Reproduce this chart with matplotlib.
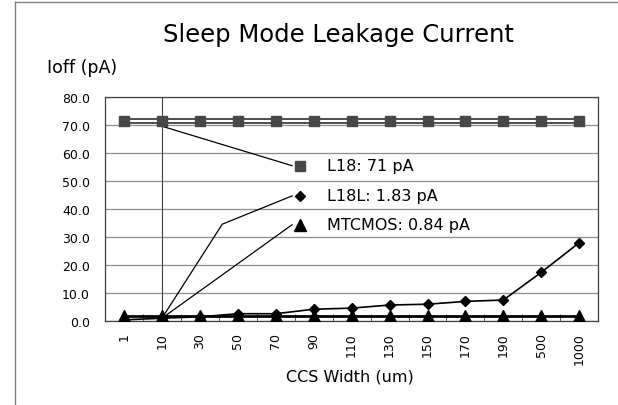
import numpy as np
import matplotlib.pyplot as plt
from matplotlib.lines import Line2D

# data
widths = ['1', '10', '30', '50', '70', '90', '110', '130', '150', '170', '190', '500', '1000']
l18 = [71.2] * 13
l18l = [0.3, 0.9, 1.4, 2.5, 2.5, 4.1, 4.5, 5.6, 5.9, 6.9, 7.4, 17.3, 27.9]
mtcmos = [1.8] * 13
legend_labels = ['L18: 71 pA', 'L18L: 1.83 pA', 'MTCMOS: 0.84 pA']

plt.rcParams['font.family'] = 'DejaVu Sans'
fig = plt.figure(figsize=(6.18, 4.06), dpi=100)
ax = fig.add_axes([0.170, 0.2076, 0.798, 0.5514])
x = np.arange(len(widths))

# L18: hollow double line with gray squares
ax.plot(x, l18, color='#404040', lw=4.2, zorder=3)
ax.plot(x, l18, color='white', lw=1.6, zorder=3)
ax.plot(x, l18, ls='none', marker='s', ms=6.5, color='#484848', zorder=4)
# MTCMOS
ax.plot(x, mtcmos, color='black', lw=2.0, marker='^', ms=8, zorder=3)
# L18L
ax.plot(x, l18l, color='black', lw=1.2, marker='D', ms=5.5, zorder=4)

ax.set_xlim(-0.5, len(widths) - 0.5)
ax.set_ylim(0, 80)
ax.set_yticks(np.arange(0, 81, 10))
ax.set_yticklabels(['%.1f' % v for v in np.arange(0, 81, 10)], fontsize=9)
ax.tick_params(axis='y', length=0, pad=11)
ax.grid(axis='y', color='#8c8c8c', lw=0.9)
ax.set_axisbelow(True)

ax.set_xticks(x)
ax.set_xticklabels(widths, rotation=90, fontsize=9)
ax.tick_params(axis='x', length=0, pad=8)
ax.set_xticks(np.arange(-0.5, len(widths), 1), minor=True)
ax.tick_params(axis='x', which='minor', direction='in', length=5, color='#404040')
for s in ax.spines.values():
    s.set_color('#404040')
    s.set_linewidth(0.9)

# vertical marker at width 10
ax.axvline(1, color='#404040', lw=0.8, zorder=2)

# in-plot legend with leader lines
lx, tx = 4.65, 5.36
ly = [55.4, 44.6, 34.3]
ax.plot([1, 4.43], [l18[1] - 1.7, ly[0]], color='black', lw=0.9, zorder=2)
ax.plot([1, 2.59, 4.43], [l18l[1], 34.5, ly[1]], color='black', lw=0.9, zorder=2)
ax.plot([1, 4.43], [l18l[1], ly[2]], color='black', lw=0.9, zorder=2)
ax.plot(lx, ly[0], marker='s', ms=6.5, color='#484848', ls='none', zorder=5)
ax.plot(lx, ly[1], marker='D', ms=5.5, color='black', ls='none', zorder=5)
ax.plot(lx, ly[2], marker='^', ms=8, color='black', ls='none', zorder=5)
for yy, lab in zip(ly, legend_labels):
    ax.text(tx, yy, lab, fontsize=11.5, va='center', ha='left', zorder=5)

fig.text(0.547, 0.914, 'Sleep Mode Leakage Current', fontsize=17.5, ha='center', va='center')
fig.text(0.076, 0.833, 'Ioff (pA)', fontsize=12.5, ha='left', va='center')
fig.text(0.566, 0.072, 'CCS Width (um)', fontsize=11.5, ha='center', va='center')

# outer chart frame (left and top edges visible)
fig.add_artist(Line2D([0.0235, 0.0235], [0, 0.993], color='#808080', lw=1))
fig.add_artist(Line2D([0.0235, 1], [0.993, 0.993], color='#808080', lw=1))

fig.savefig('out.png', dpi=100)
